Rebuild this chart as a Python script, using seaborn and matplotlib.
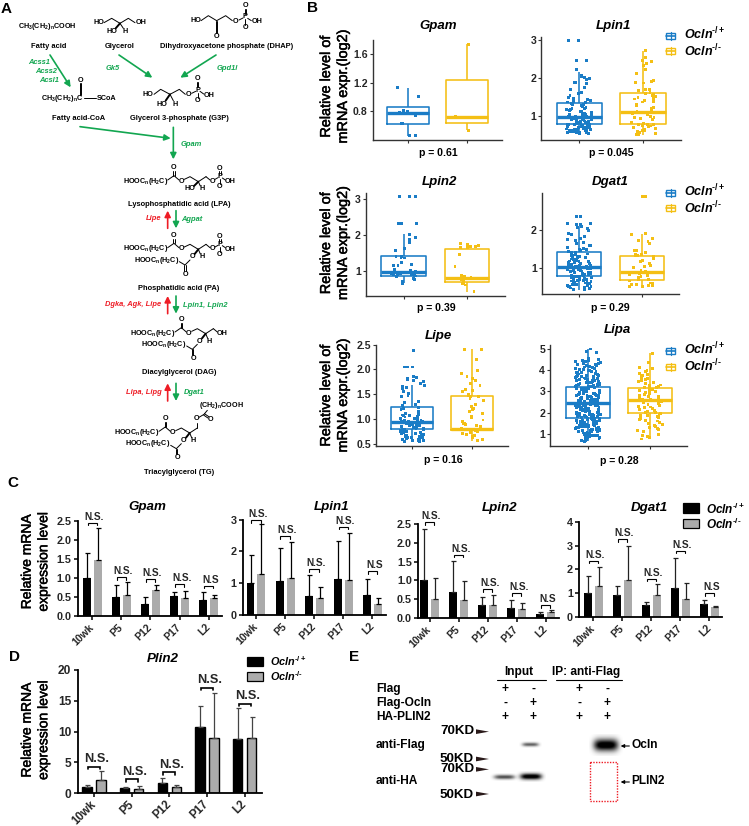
import numpy as np
import pandas as pd
import matplotlib
matplotlib.use("Agg")
import matplotlib.pyplot as plt
import matplotlib.patheffects as pe
from matplotlib.patches import Rectangle, Polygon
import seaborn as sns

sns.set_theme(style="ticks")
plt.rcParams['font.family'] = ['Liberation Sans', 'DejaVu Sans']
plt.rcParams['mathtext.fontset'] = 'custom'
plt.rcParams['mathtext.rm'] = 'Liberation Sans'
plt.rcParams['mathtext.it'] = 'Liberation Sans:italic'
plt.rcParams['mathtext.bf'] = 'Liberation Sans:bold'
plt.rcParams['mathtext.bfit'] = 'Liberation Sans:italic:bold'

W, H = 749, 826
BLUE, YELLOW = '#1a7cc6', '#f4bf14'
GREEN, RED = '#12a650', '#ee1c25'
HET = '$\\mathbfit{Ocln}^{\\mathbf{\u2010/+}}$'
KO = '$\\mathbfit{Ocln}^{\\mathbf{\u2010/\u2010}}$'
GROUPS = ['het', 'ko']
STAGES = ['10wk', 'P5', 'P12', 'P17', 'L2']

# ---- Panel B: five-number box summaries (low, q1, median, q3, high) ----
box_gpam = [[0.45, 0.62, 0.767, 0.861, 1.125], [0.53, 0.626, 0.72, 1.233, 1.74]]
box_lpin1 = [[0.535, 0.77, 0.965, 1.33, 2.16], [0.49, 0.77, 1.11, 1.61, 2.71]]
box_lpin2 = [[0.67, 0.87, 0.99, 1.43, 2.03], [0.42, 0.69, 0.82, 1.62, 1.69]]
box_dgat1 = [[0.44, 0.81, 1.03, 1.41, 2.09], [0.53, 0.70, 0.91, 1.31, 1.90]]
box_lipe = [[0.54, 0.79, 0.94, 1.24, 1.69], [0.55, 0.77, 0.79, 1.47, 2.41]]
box_lipa = [[0.64, 1.74, 2.46, 3.19, 5.0], [0.75, 1.96, 2.6, 3.17, 4.8]]

# ---- Panel B: points ----
pts_gpam = [[1.13, 1.0, 0.81, 0.80, 0.78, 0.73, 0.63, 0.62, 0.46, 0.45], [1.74, 0.53, 0.72]]
pts_lpin1 = [
    [2.97, 2.97, 2.45, 2.45, 2.22, 2.06, 2.04, 2.0, 1.98, 1.95, 1.88, 1.87, 1.85, 1.84, 1.75, 1.68, 1.62, 1.58, 1.52,
     1.48, 1.45, 1.42, 1.41, 1.38, 1.36, 1.35, 1.32, 1.3, 1.27, 1.25, 1.22, 1.2, 1.17, 1.16, 1.13, 1.12, 1.09, 1.07,
     1.05, 1.04, 1.02, 1.0, 0.99, 0.98, 0.97, 0.96, 0.95, 0.94, 0.92, 0.91, 0.9, 0.89, 0.88, 0.87, 0.86, 0.85, 0.84,
     0.82, 0.81, 0.8, 0.79, 0.78, 0.78, 0.77, 0.75, 0.74, 0.73, 0.72, 0.71, 0.7, 0.69, 0.68, 0.67, 0.66, 0.65, 0.65,
     0.64, 0.63, 0.62, 0.62, 0.61, 0.6, 0.6, 0.59, 0.58, 0.58, 0.57, 0.56, 0.56, 0.55, 0.54, 0.54, 1.33, 1.29, 1.18,
     1.11, 1.03, 0.97, 0.93, 0.86, 0.83, 0.76, 0.72, 0.68, 0.63, 0.59, 0.57],
    [2.71, 2.52, 2.46, 2.42, 2.38, 2.32, 2.22, 2.12, 1.92, 1.9, 1.87, 1.86, 1.7, 1.68, 1.66, 1.62, 1.58, 1.55, 1.53,
     1.5, 1.48, 1.46, 1.44, 1.4, 1.38, 1.36, 1.3, 1.26, 1.22, 1.18, 1.15, 1.12, 1.08, 1.05, 1.02, 0.98, 0.96, 0.95,
     0.93, 0.9, 0.82, 0.8, 0.78, 0.77, 0.76, 0.75, 0.73, 0.71, 0.7, 0.68, 0.66, 0.64, 0.62, 0.6, 0.58, 0.56, 0.53,
     0.51, 0.5]]
pts_lpin2 = [
    [3.08, 3.08, 3.08, 2.33, 2.33, 2.33, 2.03, 1.93, 1.88, 1.8, 1.63, 1.57, 1.42, 1.4, 1.38, 1.37, 1.25, 1.2, 1.16,
     1.15, 1.05, 1.02, 1.0, 0.98, 0.96, 0.95, 0.94, 0.93, 0.92, 0.9, 0.9, 0.88, 0.87, 0.85, 0.8, 0.76, 0.72, 0.67],
    [1.78, 1.75, 1.72, 1.7, 1.7, 1.67, 1.66, 1.46, 1.14, 0.88, 0.85, 0.84, 0.82, 0.8, 0.8, 0.78, 0.75, 0.7, 0.67,
     0.62, 0.45]]
pts_dgat1 = [
    [2.35, 2.35, 2.16, 2.16, 2.13, 2.13, 2.09, 2.05, 2.03, 1.98, 1.9, 1.87, 1.82, 1.78, 1.75, 1.72, 1.68, 1.64, 1.6,
     1.58, 1.55, 1.52, 1.5, 1.48, 1.45, 1.44, 1.42, 1.4, 1.38, 1.36, 1.34, 1.32, 1.3, 1.28, 1.27, 1.25, 1.23, 1.22,
     1.2, 1.18, 1.17, 1.15, 1.13, 1.12, 1.1, 1.08, 1.07, 1.05, 1.04, 1.03, 1.02, 1.0, 0.99, 0.98, 0.96, 0.95, 0.94,
     0.92, 0.91, 0.9, 0.88, 0.87, 0.86, 0.84, 0.83, 0.82, 0.8, 0.79, 0.78, 0.76, 0.75, 0.74, 0.72, 0.71, 0.7, 0.68,
     0.67, 0.66, 0.65, 0.63, 0.62, 0.6, 0.6, 0.58, 0.57, 0.56, 0.54, 0.52, 0.5, 0.48, 0.46, 0.45, 1.37, 1.31, 1.24,
     1.19, 1.14, 1.09, 1.06, 1.01, 0.97, 0.93, 0.89, 0.85, 0.81, 0.77, 0.73, 0.69, 0.64, 0.61, 0.59, 0.55, 0.53, 0.49],
    [2.87, 2.87, 1.9, 1.87, 1.78, 1.73, 1.7, 1.65, 1.46, 1.45, 1.42, 1.37, 1.36, 1.34, 1.33, 1.3, 1.25, 1.2, 1.17,
     1.13, 1.08, 1.05, 1.03, 0.95, 0.93, 0.9, 0.87, 0.84, 0.82, 0.78, 0.75, 0.72, 0.7, 0.67, 0.62, 0.6, 0.58, 0.57,
     0.56, 0.55, 0.54, 0.53, 0.52]]
pts_lipe = [
    [2.38, 2.38, 2.05, 2.05, 2.05, 1.85, 1.83, 1.82, 1.8, 1.78, 1.75, 1.72, 1.68, 1.65, 1.63, 1.62, 1.55, 1.52, 1.48,
     1.45, 1.35, 1.33, 1.3, 1.27, 1.24, 1.22, 1.2, 1.15, 1.12, 1.1, 1.08, 1.06, 1.05, 1.04, 1.02, 1.0, 0.99, 0.98,
     0.97, 0.96, 0.95, 0.94, 0.93, 0.92, 0.91, 0.9, 0.89, 0.88, 0.87, 0.86, 0.85, 0.84, 0.83, 0.82, 0.81, 0.8, 0.79,
     0.78, 0.77, 0.76, 0.75, 0.74, 0.73, 0.72, 0.71, 0.7, 0.69, 0.68, 0.67, 0.66, 0.65, 0.64, 0.63, 0.62, 0.61, 0.6,
     0.59, 0.58, 0.57, 0.56, 0.55, 0.54, 1.07, 1.01, 0.96, 0.92, 0.88, 0.83, 0.79, 0.75, 0.71, 0.67, 0.63, 0.6, 0.57],
    [2.41, 2.4, 2.2, 1.98, 1.92, 1.85, 1.82, 1.78, 1.72, 1.68, 1.6, 1.58, 1.55, 1.5, 1.47, 1.46, 1.45, 1.42, 1.38,
     1.3, 1.25, 1.22, 1.2, 1.15, 1.12, 1.05, 1.02, 0.98, 0.95, 0.92, 0.9, 0.88, 0.86, 0.84, 0.82, 0.8, 0.78, 0.76,
     0.74, 0.72, 0.7, 0.68, 0.66, 0.65, 0.62, 0.58, 0.56]]
pts_lipa = [
    [5.0, 4.9, 4.85, 4.55, 4.5, 4.48, 4.45, 4.42, 4.4, 4.35, 4.32, 4.3, 4.25, 4.22, 4.2, 4.15, 4.12, 4.1, 4.05, 4.02,
     4.0, 3.96, 3.93, 3.9, 3.88, 3.85, 3.82, 3.8, 3.77, 3.75, 3.72, 3.7, 3.68, 3.65, 3.62, 3.6, 3.58, 3.55, 3.52, 3.5,
     3.48, 3.45, 3.42, 3.4, 3.38, 3.35, 3.33, 3.3, 3.28, 3.25, 3.22, 3.2, 3.18, 3.15, 3.12, 3.1, 3.08, 3.05, 3.02, 3.0,
     2.98, 2.95, 2.92, 2.9, 2.88, 2.85, 2.83, 2.8, 2.78, 2.75, 2.73, 2.7, 2.68, 2.65, 2.63, 2.6, 2.58, 2.55, 2.53, 2.5,
     2.48, 2.46, 2.44, 2.42, 2.4, 2.38, 2.35, 2.33, 2.3, 2.28, 2.25, 2.23, 2.2, 2.18, 2.15, 2.13, 2.1, 2.08, 2.05, 2.03,
     2.0, 1.98, 1.95, 1.92, 1.9, 1.88, 1.85, 1.83, 1.8, 1.78, 1.75, 1.73, 1.7, 1.68, 1.65, 1.62, 1.6, 1.58, 1.55, 1.52,
     1.5, 1.48, 1.45, 1.42, 1.4, 1.38, 1.35, 1.33, 1.3, 1.28, 1.25, 1.22, 1.2, 1.18, 1.15, 1.12, 1.1, 1.05, 1.02, 1.0,
     0.97, 0.95, 0.92, 0.9, 0.88, 0.85, 0.82, 0.8, 0.77, 0.73, 0.7, 0.66, 0.64, 2.62, 2.72, 2.82, 2.92, 3.02, 3.12,
     2.52, 2.42, 2.32, 2.22, 2.12, 3.22, 3.32, 3.42, 1.52, 1.42, 1.32, 1.22, 1.72, 1.82, 1.92, 4.44, 4.28, 4.17, 4.07,
     3.98, 3.91, 3.83, 3.76, 3.69, 3.63, 3.57, 3.51, 3.44, 3.37, 3.31, 3.26, 3.21, 3.16, 3.11, 3.06, 3.01, 2.96, 2.91,
     2.86, 2.81, 2.76, 2.71, 2.66, 2.61, 2.56, 2.51, 2.47, 2.41, 2.36, 2.31, 2.26, 2.21, 2.16, 2.11, 2.06, 2.01, 1.96,
     1.91, 1.86, 1.81, 1.76, 1.71, 1.66, 1.61, 1.56, 1.51, 1.46, 1.41, 1.36, 1.31, 1.26, 1.21, 1.16, 1.11, 1.04, 0.98,
     0.93, 0.87, 0.83, 0.78, 3.24, 2.94, 2.74, 2.54, 2.34, 2.14, 1.94, 1.74, 1.54, 1.34, 1.14],
    [4.8, 4.35, 4.12, 4.08, 4.0, 3.95, 3.85, 3.8, 3.75, 3.7, 3.65, 3.6, 3.55, 3.5, 3.45, 3.4, 3.35, 3.3, 3.27, 3.24,
     3.2, 3.17, 3.14, 3.1, 3.06, 3.02, 3.0, 2.96, 2.92, 2.88, 2.84, 2.8, 2.77, 2.74, 2.7, 2.67, 2.64, 2.62, 2.6, 2.58,
     2.55, 2.52, 2.5, 2.46, 2.42, 2.38, 2.34, 2.3, 2.26, 2.22, 2.18, 2.14, 2.1, 2.06, 2.02, 1.98, 1.95, 1.92, 1.88,
     1.84, 1.8, 1.76, 1.72, 1.68, 1.64, 1.6, 1.55, 1.5, 1.45, 1.4, 1.35, 1.3, 1.25, 1.2, 1.15, 1.1, 0.95, 0.9, 0.85,
     0.8, 0.75]]

# ---- Panel C / D: bars (mean, top of error bar, N.S. bracket height) ----
c_gpam = dict(het=[1.0, 0.5, 0.32, 0.53, 0.42], ko=[1.47, 0.56, 0.67, 0.47, 0.46],
              het_top=[1.66, 0.81, 0.5, 0.64, 0.62], ko_top=[2.3, 0.88, 0.82, 0.66, 0.56],
              ns=[2.45, 1.01, 0.97, 0.83, 0.80])
c_lpin1 = dict(het=[1.0, 1.06, 0.6, 1.13, 0.62], ko=[1.3, 1.17, 0.52, 1.1, 0.35],
               het_top=[1.88, 2.12, 1.24, 2.34, 1.12], ko_top=[2.85, 2.3, 0.88, 2.57, 0.52],
               ns=[2.99, 2.48, 1.44, 2.77, 1.38])
c_lpin2 = dict(het=[1.0, 0.7, 0.33, 0.25, 0.11], ko=[0.5, 0.48, 0.34, 0.23, 0.15],
               het_top=[2.38, 1.52, 0.55, 0.47, 0.15], ko_top=[1.06, 0.98, 0.6, 0.4, 0.2],
               ns=[2.56, 1.69, 0.76, 0.65, 0.33])
c_dgat1 = dict(het=[1.0, 0.93, 0.5, 1.2, 0.52], ko=[1.28, 1.55, 0.9, 0.76, 0.4],
               het_top=[1.73, 1.3, 0.63, 2.5, 0.72], ko_top=[2.12, 3.0, 1.37, 1.43, 0.45],
               ns=[2.37, 3.28, 1.6, 2.79, 1.0])
d_plin2 = dict(het=[0.95, 0.75, 1.55, 10.7, 8.7], ko=[2.05, 0.7, 1.05, 9.0, 8.9],
               het_top=[1.35, 1.0, 2.5, 14.1, 13.8], ko_top=[3.5, 1.1, 1.35, 16.3, 12.3],
               ns=[4.28, 2.22, 3.36, 17.1, 14.5])

fig = plt.figure(figsize=(W / 100, H / 100), dpi=100, facecolor='white')


def axpx(x0, ytop, x1, ybot):
    a = fig.add_axes([x0 / W, 1 - ybot / H, (x1 - x0) / W, (ybot - ytop) / H])
    a.patch.set_alpha(0)
    return a


def ycal(ax, va, pa, vb, pb):
    """Set y limits from two tick calibrations (value, pixel row)."""
    bb = ax.get_position()
    ybot, ytop = (1 - bb.y0) * H, (1 - bb.y1) * H
    s = (va - vb) / (pb - pa)
    ax.set_ylim(va - (ybot - pa) * s, va + (pa - ytop) * s)


ov = fig.add_axes([0, 0, 1, 1], zorder=20)
ov.set_xlim(0, W)
ov.set_ylim(H, 0)
ov.axis('off')


def T(x, y, s, size=7.5, weight='bold', style='normal', color='black', ha='center', va='center', rot=0, heavy=0):
    t = ov.text(x, y, s, fontsize=size, fontweight=weight, fontstyle=style, color=color, ha=ha, va=va, rotation=rot)
    if heavy:
        t.set_path_effects([pe.withStroke(linewidth=heavy, foreground=color)])
    return t


# ---------------- panel letters ----------------
for (x, y, s) in [(6, 9, 'A'), (312, 8, 'B'), (13, 483, 'C'), (14, 657, 'D'), (354, 657, 'E')]:
    T(x, y, s, size=11)


# ---------------- Panel B ----------------
def boxpanel(rect, box, pts, ticks, cal, centers, title, tpos, ptxt, ppos, fmt):
    ax = axpx(*rect)
    d5 = pd.DataFrame({'group': np.repeat(GROUPS, 5), 'v': np.ravel(box)})
    dp = pd.DataFrame({'group': ['het'] * len(pts[0]) + ['ko'] * len(pts[1]), 'v': list(pts[0]) + list(pts[1])})
    pal = {'het': BLUE, 'ko': YELLOW}
    sns.boxplot(data=d5, x='group', y='v', hue='group', palette=pal, fill=False, width=0.71, whis=(0, 100),
                showfliers=False, showcaps=False, linewidth=1.15, medianprops={'linewidth': 2.4},
                legend=False, ax=ax, order=GROUPS, hue_order=GROUPS)
    sns.stripplot(data=dp, x='group', y='v', hue='group', palette=pal, marker='s', size=2.1, jitter=0.2,
                  linewidth=0, legend=False, ax=ax, order=GROUPS, hue_order=GROUPS, zorder=3)
    u = centers[1] - centers[0]
    ax.set_xlim((rect[0] - centers[0]) / u, (rect[2] - centers[0]) / u)
    ax.set_yticks(ticks)
    ax.set_yticklabels([fmt % t for t in ticks], fontsize=7.6, fontweight='bold')
    ycal(ax, *cal)
    ax.set_xticks([0, 1])
    ax.set_xticklabels([])
    ax.set_xlabel('')
    ax.set_ylabel('')
    ax.tick_params(length=2, width=0.8, color='#333333', pad=1.5)
    sns.despine(ax=ax)
    for sp in ['left', 'bottom']:
        ax.spines[sp].set_linewidth(1.0)
        ax.spines[sp].set_color('#333333')
    T(tpos[0], tpos[1], title, size=9.5, style='italic')
    T(ppos[0], ppos[1], ptxt, size=7.6)
    return ax


boxpanel((372.7, 40, 501.7, 139.7), box_gpam, pts_gpam, [0.8, 1.2, 1.6], (0.8, 111, 1.6, 54.3), (407.7, 466.7),
         'Gpam', (438, 25.7), 'p = 0.61', (438.3, 152.7), '%.1f')
boxpanel((541.3, 36.7, 680.7, 139.7), box_lpin1, pts_lpin1, [1, 2, 3], (1, 115.7, 3, 39.7), (579.3, 643),
         'Lpin1', (613.3, 25.7), 'p = 0.045', (611.7, 152.7), '%d')
boxpanel((365.7, 192.7, 505, 295.7), box_lpin2, pts_lpin2, [1, 2, 3], (1, 271.3, 3, 199.3), (403.7, 467),
         'Lpin2', (439, 181.7), 'p = 0.39', (436.7, 308.3), '%d')
boxpanel((541.7, 192.7, 679, 294), box_dgat1, pts_dgat1, [1, 2], (1, 268.3, 2, 229.7), (579.3, 641.7),
         'Dgat1', (610, 181.7), 'p = 0.29', (610.7, 308.3), '%d')
boxpanel((376, 344.7, 508.3, 446.3), box_lipe, pts_lipe, [0.5, 1.0, 1.5, 2.0, 2.5], (1.0, 419, 2.5, 344.7),
         (412.3, 472), 'Lipe', (438, 335.7), 'p = 0.16', (443.3, 460), '%.1f')
boxpanel((550, 344.7, 687.3, 446.3), box_lipa, pts_lipa, [1, 2, 3, 4, 5], (1, 433.7, 5, 349), (587.7, 650),
         'Lipa', (617.7, 330), 'p = 0.28', (619, 461), '%d')

for yc in [86.7, 243.3, 395.7]:
    T(326, yc, 'Relative level of', size=10.4, weight='normal', rot=90, heavy=0.35)
    T(343, yc, 'mRNA expr.(log2)', size=10.4, weight='normal', rot=90, heavy=0.35)

for (y1, t1, y2, t2) in [(35.7, 32.7, 50.7, 50), (193, 190, 208, 207), (351, 348, 366.7, 365)]:
    for yy, tt, col, lab in [(y1, t1, BLUE, HET), (y2, t2, YELLOW, KO)]:
        ov.add_patch(Rectangle((666.3, yy - 3.2), 8.7, 6.4, fill=False, ec=col, lw=1.0))
        ov.plot([666.3, 675], [yy, yy], color=col, lw=1.2)
        ov.plot([670.6, 670.6], [yy - 4.2, yy + 4.2], color=col, lw=0.9)
        T(684, tt + 1, lab, size=9, ha='left')


# ---------------- Panels C and D ----------------
def barpanel(rect, dat, ticks, cal, centers, right_pad, title, tpos, fmt, tick_fs, ns_fs, edge, err_col,
             bracket_lw, ns_off, gap, width):
    ax = axpx(*rect)
    df = pd.DataFrame({'stage': STAGES * 2, 'genotype': ['het'] * 5 + ['ko'] * 5, 'value': dat['het'] + dat['ko']})
    sns.barplot(data=df, x='stage', y='value', hue='genotype', order=STAGES, hue_order=GROUPS,
                palette={'het': 'black', 'ko': '#ababab'}, width=width, gap=gap, errorbar=None, legend=False,
                linewidth=edge, edgecolor='black' if edge else None, saturation=1, ax=ax)
    for cont, key in zip(ax.containers, ['het', 'ko']):
        xs = [b.get_x() + b.get_width() / 2 for b in cont]
        vals = np.array(dat[key])
        tops = np.array(dat[key + '_top'])
        ax.errorbar(xs, vals, yerr=[np.zeros(5), tops - vals], fmt='none', ecolor=err_col, elinewidth=0.9,
                    capsize=1.8, capthick=0.9, clip_on=False)
    u = centers[1] - centers[0]
    ax.set_xlim((rect[0] - centers[0]) / u * 1.0, 4 + right_pad / u)
    ax.set_yticks(ticks)
    ax.set_yticklabels([fmt % t for t in ticks], fontsize=tick_fs, fontweight='bold')
    ycal(ax, *cal)
    ax.set_xticks(range(5))
    ax.set_xticklabels(STAGES, rotation=45, ha='right', va='center', rotation_mode='anchor',
                       fontsize=tick_fs - 0.3, fontweight='bold')
    ax.set_xlabel('')
    ax.set_ylabel('')
    ax.tick_params(length=3, width=1.1, color='black', pad=1.5)
    ax.tick_params(axis='x', pad=4)
    sns.despine(ax=ax)
    for sp in ['left', 'bottom']:
        ax.spines[sp].set_linewidth(1.3)
        ax.spines[sp].set_color('black')
    ymin, ymax = ax.get_ylim()
    pxu = (ymax - ymin) / (rect[3] - rect[1])
    for i, h in enumerate(dat['ns']):
        half = 0.16
        ax.plot([i - half, i - half, i + half, i + half], [h - 2.5 * pxu, h, h, h - 2.5 * pxu], color='black',
                lw=bracket_lw, clip_on=False, solid_joinstyle='miter')
        lab = 'N.S' if (i == 4 and title != 'Plin2') else 'N.S.'
        ax.text(i + 0.07, h + ns_off * pxu, lab, fontsize=ns_fs, fontweight='bold', ha='center', va='bottom',
                clip_on=False)
    T(tpos[0], tpos[1], title, size=9.6, style='italic')
    return ax


C_GAP, C_W = 0.273, 0.754
barpanel((77.7, 520.7, 221.7, 616), c_gpam, [0, 0.5, 1.0, 1.5, 2.0, 2.5], (0, 616, 2.5, 520.7), (92.2, 121.4), 12.9,
         'Gpam', (147, 507), '%.1f', 7.8, 7.3, 0, 'black', 0.8, 1, C_GAP, C_W)
barpanel((242.7, 519.7, 386, 614.7), c_lpin1, [0, 1, 2, 3], (0, 614.7, 3, 519.7), (256, 285.1), 13.7,
         'Lpin1', (331.7, 507), '%d', 7.8, 7.3, 0, 'black', 0.8, 1, C_GAP, C_W)
barpanel((418.3, 524.3, 558.7, 617.7), c_lpin2, [0, 0.5, 1.0, 1.5, 2.0, 2.5], (0, 617.7, 2.5, 524.3), (429.5, 458.5),
         13, 'Lpin2', (500, 507.7), '%.1f', 7.8, 7.3, 0, '#222222', 0.8, 1, C_GAP, C_W)
barpanel((579, 522, 722, 616.7), c_dgat1, [0, 1, 2, 3, 4], (0, 616.7, 4, 522), (593.2, 622.2), 12.7,
         'Dgat1', (649.3, 507.7), '%d', 7.8, 7.3, 0, '#222222', 0.8, 1, C_GAP, C_W)
barpanel((77.7, 670, 261.7, 793), d_plin2, [0, 5, 10, 15, 20], (0, 793, 20, 670), (94, 131.7), 16.9,
         'Plin2', (162.7, 659), '%d', 8.6, 9.2, 1.0, '#444444', 1.2, 1.5, 0.33, 0.742)

for yc in [561.7, 730]:
    T(26.7, yc, 'Relative mRNA', size=10, weight='normal', rot=90, heavy=0.35)
    T(43.3, yc, 'expression level', size=10, weight='normal', rot=90, heavy=0.35)

for (x0, w, h, rows, tx, fs) in [(683.3, 16, 9.3, [(503.3, 'black', 509, HET), (519, '#ababab', 524, KO)], 706, 8.5),
                                 (247.3, 16, 9, [(656.7, 'black', 661, HET), (672.3, '#ababab', 676, KO)], 270, 7.8)]:
    for (y0, col, ty, lab) in rows:
        ov.add_patch(Rectangle((x0, y0), w, h, fc=col, ec='black', lw=0.9))
        T(tx, ty, lab, size=fs, ha='left')

# ---------------- Panel A (schematic, drawn in 3x crop units) ----------------
Z = 1 / 3


def t3(x, y, s, size=5.4, **kw):
    T(x * Z, y * Z, s, size=size, **kw)


def seg(pts, lw=0.7, color='black'):
    a = np.array(pts, float) * Z
    ov.plot(a[:, 0], a[:, 1], color=color, lw=lw, solid_capstyle='round')


def dbl(p, q):
    a, b = np.array(p, float), np.array(q, float)
    n = np.array([-(b - a)[1], (b - a)[0]])
    n = n / np.hypot(*n) * 2.4
    seg([a + n, b + n])
    seg([a - n, b - n])


def arrow3(p, q, color, lw=1.2, ms=9):
    ov.annotate('', xy=(q[0] * Z, q[1] * Z), xytext=(p[0] * Z, p[1] * Z),
                arrowprops=dict(arrowstyle='-|>', color=color, lw=lw, mutation_scale=ms, shrinkA=0, shrinkB=0))


ACYL = r'$\mathbf{HOOC_n(H_2C)}$'
BAS = 5.2


def acyl(x, y):
    t3(x, y, ACYL, size=BAS)
    seg([(x + 67, y - 4), (x + 86, y - 17), (x + 101, y - 4)])
    dbl((x + 86, y - 17), (x + 86, y - 31))
    t3(x + 86, y - 41, 'O', size=BAS)
    t3(x + 109, y, 'O', size=BAS)


def backbone(x, y):
    seg([(x + 117, y - 6), (x + 134, y - 14), (x + 159, y + 1), (x + 182, y - 14)])


def phosphate(x, y):
    seg([(x + 182, y - 14), (x + 194, y - 4)])
    t3(x + 201, y, 'O', size=BAS)
    seg([(x + 209, y - 6), (x + 218, y - 11)])
    t3(x + 224, y - 14, 'P', size=BAS)
    dbl((x + 224, y - 22), (x + 224, y - 31))
    t3(x + 224, y - 39, 'O', size=BAS)
    seg([(x + 224, y - 6), (x + 224, y + 8)])
    t3(x + 223, y + 16, 'O', size=BAS)
    seg([(x + 231, y - 10), (x + 240, y - 4)])
    t3(x + 255, y + 1, 'OH', size=BAS)


def second_acyl(x, y):
    t3(x + 34, y + 33, ACYL, size=BAS)
    seg([(x + 102, y + 38), (x + 119, y + 48), (x + 134, y + 33)])
    dbl((x + 119, y + 48), (x + 119, y + 65))
    t3(x + 122, y + 75, 'O', size=BAS)
    t3(x + 142, y + 24, 'O', size=BAS)
    t3(x + 169, y + 24, 'H', size=BAS)
    seg([(x + 159, y + 1), (x + 148, y + 15)], lw=1.4)
    seg([(x + 159, y + 1), (x + 165, y + 15)])


t3(142, 80, r'$\mathbf{CH_3(CH_2)_nCOOH}$', size=BAS)
for (x, y, s) in [(145, 139, 'Fatty acid'), (359, 140, 'Glycerol'), (680, 141, 'Dihydroxyacetone phosphate (DHAP)'),
                  (237, 357, 'Fatty acid-CoA'), (537, 357, 'Glycerol 3-phosphate (G3P)'),
                  (537, 612, 'Lysophosphatidic acid (LPA)'), (537, 865, 'Phosphatidic acid (PA)'),
                  (537, 1117, 'Diacylglycerol (DAG)'), (537, 1417, 'Triacylglycerol (TG)')]:
    t3(x, y, s)

for (x, y, s, c, ha) in [(118, 187, 'Acss1', GREEN, 'center'), (137, 214, 'Acss2', GREEN, 'center'),
                         (146, 241, 'Acsl1', GREEN, 'center'), (339, 206, 'Gk5', GREEN, 'center'),
                         (681, 206, 'Gpd1l', GREEN, 'center'), (575, 434, 'Gpam', GREEN, 'center'),
                         (484, 657, 'Lipe', RED, 'right'), (543, 658, 'Agpat', GREEN, 'left'),
                         (484, 915, 'Dgka, Agk, Lipe', RED, 'right'), (549, 917, 'Lpin1, Lpin2', GREEN, 'left'),
                         (484, 1177, 'Lipa, Lipg', RED, 'right'), (551, 1178, 'Dgat1', GREEN, 'left')]:
    t3(x, y, s, color=c, style='italic', ha=ha)

for p, q in [((150, 165), (212, 262)), ((357, 165), (457, 233)), ((648, 165), (541, 233)), ((240, 380), (512, 415)),
             ((520, 382), (520, 478))]:
    arrow3(p, q, GREEN)
for y0 in [632, 888, 1150]:
    arrow3((503, y0 + 53), (503, y0), RED)
    arrow3((528, y0), (528, y0 + 53), GREEN)

# glycerol
t3(296, 68, 'HO', size=BAS)
t3(423, 68, 'OH', size=BAS)
t3(335, 95, 'HO', size=BAS)
t3(375, 95, 'H', size=BAS)
seg([(312, 68), (335, 55), (360, 70), (385, 55), (405, 68)])
seg([(360, 70), (347, 85)], lw=1.4)
seg([(360, 70), (370, 85)])
# DHAP
t3(587, 63, 'HO', size=BAS)
seg([(603, 62), (625, 47), (650, 62), (677, 47), (697, 62)])
dbl((650, 62), (650, 98))
t3(651, 108, 'O', size=BAS)
t3(708, 65, 'O', size=BAS)
seg([(717, 60), (729, 54)])
t3(736, 50, 'P', size=BAS)
dbl((736, 26), (736, 41))
t3(736, 17, 'O', size=BAS)
seg([(736, 58), (736, 74)])
t3(736, 83, 'O', size=BAS)
seg([(743, 55), (754, 62)])
t3(771, 65, 'OH', size=BAS)
# acyl-CoA
t3(186, 296, r'$\mathbf{CH_3(CH_2)_nC}$', size=BAS)
dbl((241, 250), (241, 285))
t3(241, 240, 'O', size=BAS)
seg([(252, 295), (288, 295)])
t3(320, 296, 'SCoA', size=BAS)
# G3P
t3(445, 285, 'HO', size=BAS)
seg([(462, 283), (482, 268), (510, 283), (538, 268), (556, 283)])
seg([(510, 283), (497, 302)], lw=1.4)
seg([(510, 283), (520, 302)])
t3(485, 312, 'HO', size=BAS)
t3(525, 312, 'H', size=BAS)
t3(566, 285, 'O', size=BAS)
seg([(575, 280), (587, 274)])
t3(593, 270, 'P', size=BAS)
dbl((593, 246), (593, 262))
t3(593, 237, 'O', size=BAS)
seg([(593, 278), (593, 294)])
t3(593, 303, 'O', size=BAS)
seg([(600, 274), (611, 282)])
t3(628, 286, 'OH', size=BAS)
# LPA
acyl(436, 544)
backbone(436, 544)
phosphate(436, 544)
seg([(595, 545), (582, 558)], lw=1.4)
seg([(595, 545), (601, 558)])
t3(570, 567, 'HO', size=BAS)
t3(605, 567, 'H', size=BAS)
# PA
acyl(436, 747)
backbone(436, 747)
phosphate(436, 747)
second_acyl(436, 747)
# DAG
acyl(458, 1000)
backbone(458, 1000)
second_acyl(458, 1000)
seg([(640, 986), (652, 996)])
t3(668, 1000, 'OH', size=BAS)
# TG
acyl(410, 1298)
backbone(410, 1298)
second_acyl(410, 1298)
seg([(590, 1285), (590, 1268)])
t3(590, 1257, 'O', size=BAS)
seg([(597, 1252), (612, 1243), (622, 1231)])
dbl((612, 1243), (625, 1252))
t3(633, 1258, 'O', size=BAS)
t3(665, 1217, r'$\mathbf{(CH_2)_nCOOH}$', size=BAS)


# ---------------- Panel E (in 3x crop units, origin 370,650) ----------------
def ex(x):
    return 370 + x * Z


def ey(y):
    return 650 + y * Z


FE = 8.6
T(ex(445), ey(66), 'Input', size=FE)
T(ex(648), ey(66), 'IP: anti-Flag', size=FE)
ov.plot([ex(381), ex(527)], [ey(90), ey(90)], color='black', lw=0.8)
ov.plot([ex(557), ex(755)], [ey(90), ey(90)], color='black', lw=0.8)
LANES = [406, 490, 627, 712]
ROWS = [('Flag', 116, '+-+-'), ('Flag-Ocln', 158, '-+-+'), ('HA-PLIN2', 201, '++++')]
for name, y, signs in ROWS:
    T(ex(18), ey(y), name, size=FE, ha='left')
    for lx, sg in zip(LANES, signs):
        T(ex(lx), ey(y), sg, size=FE)
T(ex(18), ey(286), 'anti-Flag', size=FE, ha='left')
T(ex(18), ey(392), 'anti-HA', size=FE, ha='left')
for y, ya, s in [(243, 245, '70KD'), (326, 327, '50KD'), (358, 358, '70KD'), (436, 432, '50KD')]:
    T(ex(261), ey(y), s, size=9.6)
    ov.add_patch(Polygon([(ex(318), ey(ya - 7)), (ex(357), ey(ya)), (ex(318), ey(ya + 7))], fc='#2a1a1a', ec='none'))

BANDS = [(482, 286, 45, 11, 0.55), (708, 286, 68, 38, 1.0), (402, 381, 58, 14, 0.62), (482, 381, 60, 18, 1.0)]
yy, xx = np.mgrid[-1:1:60j, -1:1:90j]
for (cx, cy, bw, bh, amp) in BANDS:
    prof = np.exp(-(np.abs(xx) / 0.72) ** 4) * np.exp(-(np.abs(yy) / 0.55) ** 2)
    rgba = np.zeros(prof.shape + (4,))
    rgba[..., 3] = np.clip(prof * amp * 1.15, 0, 1)
    ov.imshow(rgba, extent=(ex(cx - bw * 0.75), ex(cx + bw * 0.75), ey(cy + bh * 0.85), ey(cy - bh * 0.85)),
              aspect='auto', interpolation='bilinear', zorder=1)
ov.set_xlim(0, W)
ov.set_ylim(H, 0)

for y, ty, s in [(288, 286, 'Ocln'), (396, 392, 'PLIN2')]:
    ov.annotate('', xy=(ex(752), ey(y)), xytext=(ex(778), ey(y)),
                arrowprops=dict(arrowstyle='-|>', color='black', lw=0.8, mutation_scale=5, shrinkA=0, shrinkB=0))
    T(ex(785), ey(ty), s, size=FE, ha='left')
ov.add_patch(Rectangle((ex(661), ey(335)), 81 * Z, 119 * Z, fill=False, ec=RED, lw=1.0, ls=(0, (1, 1))))

fig.savefig('out.png', dpi=100, facecolor='white')
